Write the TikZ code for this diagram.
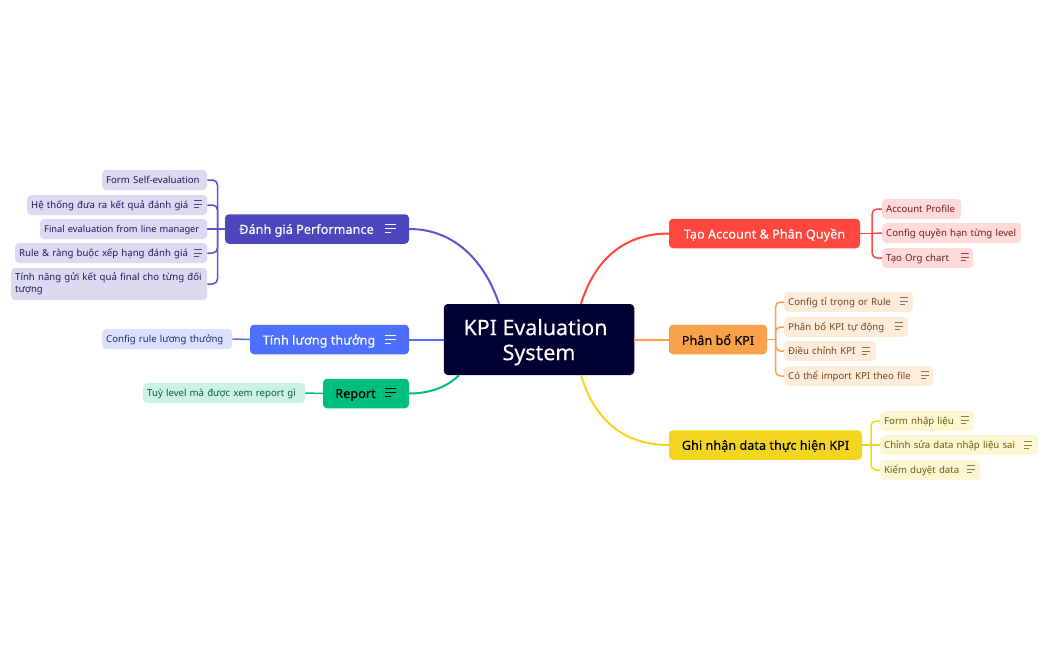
\documentclass[tikz,border=0pt]{standalone}
\usepackage{fontspec}
\setmainfont{Noto Sans}
\definecolor{rootc}{HTML}{000033}
\definecolor{perfc}{HTML}{4C47BD}
\definecolor{perfl}{HTML}{5A55CC}
\definecolor{perfb}{HTML}{DBDAF1}
\definecolor{perft}{HTML}{1F1C5E}
\definecolor{bluec}{HTML}{4C6FFF}
\definecolor{blueb}{HTML}{DBE2FF}
\definecolor{bluet}{HTML}{1D2C66}
\definecolor{greenc}{HTML}{00BF7D}
\definecolor{greenb}{HTML}{CCF2E5}
\definecolor{greent}{HTML}{0B5A3F}
\definecolor{redc}{HTML}{FF4740}
\definecolor{redb}{HTML}{FFDAD9}
\definecolor{redt}{HTML}{6B1E1B}
\definecolor{orangec}{HTML}{F9A04B}
\definecolor{orangeb}{HTML}{FEECDB}
\definecolor{oranget}{HTML}{6E4720}
\definecolor{yellowc}{HTML}{F2D51F}
\definecolor{yellowb}{HTML}{FCF7D2}
\definecolor{yellowt}{HTML}{6B5E0E}
\tikzset{
  branch/.style={rectangle, rounded corners=4pt, minimum height=29.5pt, inner sep=0pt, text depth=0pt, font=\fontsize{12.5}{15}\selectfont\addfontfeature{LetterSpace=1, FakeBold=0.25}},
  leaf/.style={rectangle, rounded corners=4pt, minimum height=20pt, inner xsep=4pt, inner ysep=0pt, text depth=0.5pt, anchor=west, align=left, font=\fontsize{9.6}{13}\selectfont},
  perfleaf/.style={leaf, fill=perfb, text=perft},
  blueleaf/.style={leaf, fill=blueb, text=bluet},
  greenleaf/.style={leaf, fill=greenb, text=greent},
  redleaf/.style={leaf, fill=redb, text=redt},
  orangeleaf/.style={leaf, fill=orangeb, text=oranget},
  yellowleaf/.style={leaf, fill=yellowb, text=yellowt},
  main/.style={line width=2pt},
  sub/.style={line width=1.5pt, rounded corners=5pt},
  noteicon/.pic={
    \draw[line width=0.9pt] (-5.5,-4) -- (5.5,-4);
    \draw[line width=0.9pt] (-5.5,0) -- (5.5,0);
    \draw[line width=0.9pt] (-5.5,4) -- (1,4);
  }
}
\begin{document}
\begin{tikzpicture}[x=1pt, y=-1pt]
  \useasboundingbox (0,0) rectangle (1049,650);

  % centre and branches
  \node (root) [rectangle, rounded corners=4pt, fill=rootc, text=white, minimum width=190.5pt, minimum height=71pt, text depth=0pt, align=center, font=\fontsize{21.4}{25}\selectfont\addfontfeature{FakeBold=0.2}] at (539,339.5) {KPI Evaluation\hspace*{7pt}\\System};

  \node (perf) [branch, fill=perfc, text=white, minimum width=184pt] at (317,229) {\hspace*{-21pt}Đánh giá Performance};
  \node (salary) [branch, fill=bluec, text=white, minimum width=159pt] at (329.5,339.5) {\hspace*{-21pt}Tính lương thưởng};
  \node (report) [branch, fill=greenc, text=black, minimum width=86pt] at (366,393.5) {\hspace*{-21pt}Report};
  \node (account) [branch, fill=redc, text=white, minimum width=191pt] at (764.5,233.5) {Tạo Account \& Phân Quyền};
  \node (alloc) [branch, fill=orangec, text=black, minimum width=98pt] at (718,339.5) {Phân bổ KPI};
  \node (record) [branch, fill=yellowc, text=black, minimum width=193pt] at (765.5,445) {Ghi nhận data thực hiện KPI};

  % left leaves
  \node (selfform) [perfleaf, text width=97pt] at (102,180) {Form Self-evaluation};
  \node (sysresult) [perfleaf, text width=172pt] at (27,205) {Hệ thống đưa ra kết quả đánh giá};
  \node (finaleval) [perfleaf, text width=159pt, font=\fontsize{9.3}{13}\selectfont] at (40,229) {Final evaluation from line manager};
  \node (rulerank) [perfleaf, text width=184pt] at (15,253) {Rule \& ràng buộc xếp hạng đánh giá};
  \node (sendfinal) [perfleaf, text width=188pt, minimum height=32pt, text depth=14pt, font=\fontsize{9.6}{11.5}\selectfont] at (11,284) {Tính năng gửi kết quả final cho từng đối tượng};
  \node (ruleconf) [blueleaf, text width=122pt] at (102,339) {Config rule lương thưởng};
  \node (levelview) [greenleaf, text width=154pt] at (143,393) {Tuỳ level mà được xem report gì};

  % right leaves
  \node (profile) [redleaf, text width=71pt] at (882,209) {Account Profile};
  \node (levelperm) [redleaf, text width=131pt] at (882,233) {Config quyền hạn từng level};
  \node (orgchart) [redleaf, text width=83pt] at (882,258) {Tạo Org chart};
  \node (weight) [orangeleaf, text width=121pt] at (784,302) {Config tỉ trọng or Rule};
  \node (autoalloc) [orangeleaf, text width=116pt] at (784,327) {Phân bổ KPI tự động};
  \node (adjust) [orangeleaf, text width=84pt] at (784,351) {Điều chỉnh KPI};
  \node (import) [orangeleaf, text width=141pt] at (784,376) {Có thể import KPI theo file};
  \node (entry) [yellowleaf, text width=86pt] at (880,421) {Form nhập liệu};
  \node (fixdata) [yellowleaf, text width=150pt] at (880,445) {Chỉnh sửa data nhập liệu sai};
  \node (review) [yellowleaf, text width=92pt] at (880,470) {Kiểm duyệt data};

  \coordinate (perfjoin) at (217.5,229);
  \coordinate (accountjoin) at (872,233.5);
  \coordinate (allocjoin) at (775.5,339.5);
  \coordinate (recordjoin) at (871,445);

  % root to branches
  \draw[main, perfl] ([xshift=-40pt]root.north) .. controls (485,262) and (455,229) .. (perf.east);
  \draw[main, bluec] (root.west) -- (salary.east);
  \draw[main, greenc] ([xshift=-80pt]root.south) .. controls (447,387) and (430,393.5) .. (report.east);
  \draw[main, redc] ([xshift=42pt]root.north) .. controls (594,262) and (622,233.5) .. (account.west);
  \draw[main, orangec] (root.east) -- (alloc.west);
  \draw[main, yellowc] ([xshift=42pt]root.south) .. controls (594,418) and (622,445) .. (record.west);

  % branches to leaves
  \draw[sub, perfl] (perf.west) -- (perfjoin);
  \draw[sub, perfl] (selfform.east) -| (perfjoin);
  \draw[sub, perfl] (sysresult.east) -| (perfjoin);
  \draw[sub, perfl] (finaleval.east) -- (perfjoin);
  \draw[sub, perfl] (rulerank.east) -| (perfjoin);
  \draw[sub, perfl] (sendfinal.east) -| (perfjoin);
  \draw[sub, bluec] (salary.west) -- (ruleconf.east);
  \draw[sub, greenc] (report.west) -- (levelview.east);
  \draw[sub, redc] (account.east) -- (accountjoin);
  \draw[sub, redc] (profile.west) -| (accountjoin);
  \draw[sub, redc] (levelperm.west) -- (accountjoin);
  \draw[sub, redc] (orgchart.west) -| (accountjoin);
  \draw[sub, orangec] (alloc.east) -- (allocjoin);
  \draw[sub, orangec] (weight.west) -| (allocjoin);
  \draw[sub, orangec] (autoalloc.west) -| (allocjoin);
  \draw[sub, orangec] (adjust.west) -| (allocjoin);
  \draw[sub, orangec] (import.west) -| (allocjoin);
  \draw[sub, yellowc] (record.east) -- (recordjoin);
  \draw[sub, yellowc] (entry.west) -| (recordjoin);
  \draw[sub, yellowc] (fixdata.west) -- (recordjoin);
  \draw[sub, yellowc] (review.west) -| (recordjoin);

  % note icons
  \pic[white] at (390,228) {noteicon};
  \pic[white] at (390,339) {noteicon};
  \pic[black] at (390,392.5) {noteicon};
  \pic[perft!75!perfb, scale=0.8] at (198,204) {noteicon};
  \pic[perft!75!perfb, scale=0.8] at (198,253) {noteicon};
  \pic[redt!75!redb, scale=0.8] at (965,257) {noteicon};
  \pic[oranget!75!orangeb, scale=0.8] at (904,301) {noteicon};
  \pic[oranget!75!orangeb, scale=0.8] at (899,326) {noteicon};
  \pic[oranget!75!orangeb, scale=0.8] at (866,351) {noteicon};
  \pic[oranget!75!orangeb, scale=0.8] at (925,375) {noteicon};
  \pic[yellowt!75!yellowb, scale=0.8] at (965,420) {noteicon};
  \pic[yellowt!75!yellowb, scale=0.8] at (1028,445) {noteicon};
  \pic[yellowt!75!yellowb, scale=0.8] at (971,469) {noteicon};
\end{tikzpicture}
\end{document}
